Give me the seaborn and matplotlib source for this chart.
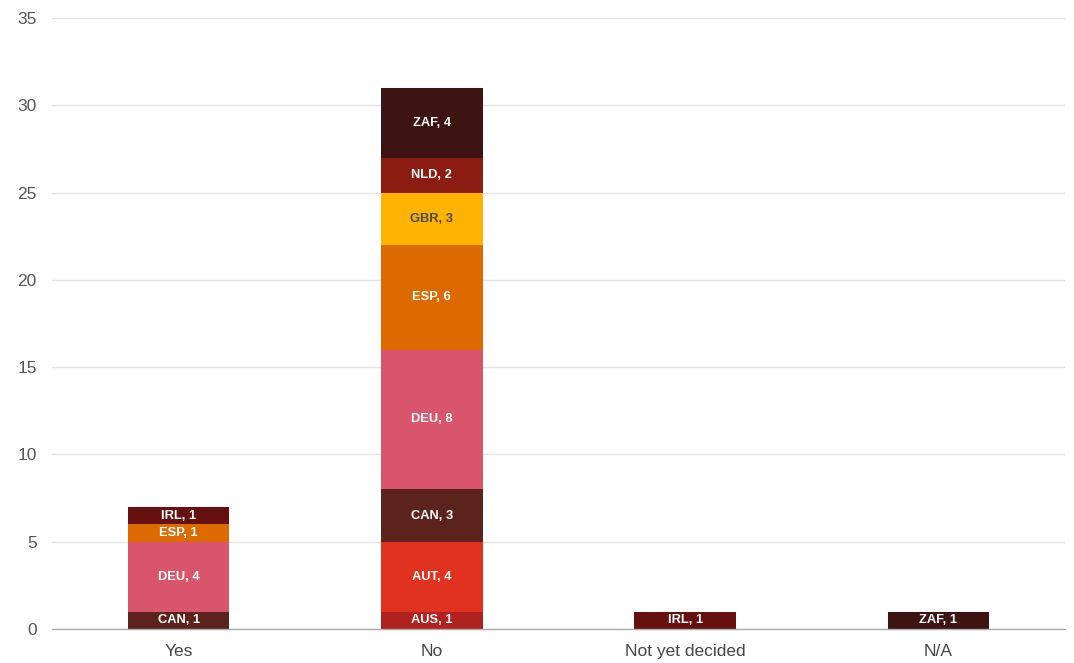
import matplotlib
matplotlib.use("Agg")
import matplotlib.pyplot as plt
import seaborn as sns
import pandas as pd
import numpy as np

categories = ["Yes", "No", "Not yet decided", "N/A"]
countries = ["AUS", "AUT", "CAN", "DEU", "ESP", "GBR", "NLD", "IRL", "ZAF"]
AUS = [0, 1, 0, 0]
AUT = [0, 4, 0, 0]
CAN = [1, 3, 0, 0]
DEU = [4, 8, 0, 0]
ESP = [1, 6, 0, 0]
GBR = [0, 3, 0, 0]
NLD = [0, 2, 0, 0]
IRL = [1, 0, 1, 0]
ZAF = [0, 4, 0, 1]
values = {"AUS": AUS, "AUT": AUT, "CAN": CAN, "DEU": DEU, "ESP": ESP,
          "GBR": GBR, "NLD": NLD, "IRL": IRL, "ZAF": ZAF}
colors = {"AUS": "#b0221f", "AUT": "#e0321e", "CAN": "#5c231d", "DEU": "#d9556b",
          "ESP": "#dc6a00", "GBR": "#fdb300", "NLD": "#8a1c12", "IRL": "#66110f",
          "ZAF": "#3d1411"}
label_colors = {c: "white" for c in countries}
label_colors["GBR"] = "#4a4a4a"

sns.set_theme(style="white")
plt.rcParams["font.family"] = ["Liberation Sans", "DejaVu Sans"]

fig = plt.figure(figsize=(10.74, 6.63), dpi=100)
ax = fig.add_axes([0.0484, 0.0513, 0.9432, 0.9216])

mat = np.array([values[c] for c in countries], dtype=float)
cum = np.cumsum(mat, axis=0)

# draw from top-most cumulative down so lower layers cover upper ones
for i in range(len(countries) - 1, -1, -1):
    df = pd.DataFrame({"cat": categories, "val": cum[i]})
    sns.barplot(data=df, x="cat", y="val", order=categories, color=colors[countries[i]],
                width=0.40, saturation=1, ax=ax, edgecolor="none", linewidth=0, zorder=3)

for i, c in enumerate(countries):
    for j in range(len(categories)):
        v = mat[i, j]
        if v > 0:
            mid = cum[i, j] - v / 2
            ax.text(j, mid, f"{c}, {int(v)}", ha="center", va="center",
                    color=label_colors[c], fontsize=9.3, fontweight="bold", zorder=5)

ax.set_ylim(0, 35)
ax.set_xlim(-0.5, 3.5)
ax.set_yticks(range(0, 36, 5))
ax.yaxis.grid(True, color="#e2e2e2", linewidth=1, zorder=0)
ax.set_axisbelow(True)
for s in ["top", "right", "left"]:
    ax.spines[s].set_visible(False)
ax.spines["bottom"].set_color("#aaaaaa")
ax.spines["bottom"].set_linewidth(1)
ax.spines["bottom"].set_zorder(4)
ax.set_xlabel("")
ax.set_ylabel("")
ax.tick_params(axis="y", length=0, labelsize=12.5, labelcolor="#555555", pad=11)
ax.tick_params(axis="x", length=0, labelsize=12.5, labelcolor="#444444", pad=11)

fig.savefig("out.png", dpi=100)
